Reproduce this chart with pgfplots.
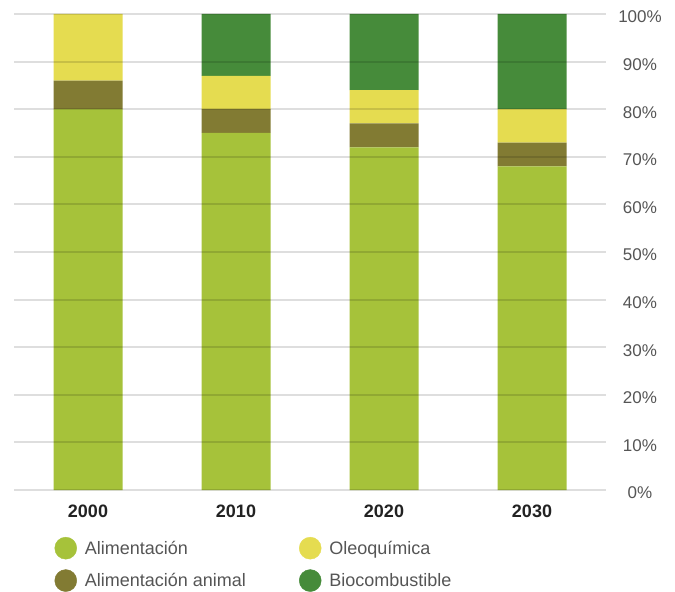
\documentclass[border=0pt]{standalone}
\usepackage{pgfplots}
\pgfplotsset{compat=1.18}
\usepackage{fontspec}
\setmainfont{Liberation Sans}
\definecolor{alim}{HTML}{A6C23A}
\definecolor{anim}{HTML}{827B33}
\definecolor{oleo}{HTML}{E5DC50}
\definecolor{bio}{HTML}{468B3A}
\definecolor{ticktxt}{HTML}{555555}
\definecolor{yeartxt}{HTML}{222222}
\begin{document}
\begin{tikzpicture}
\path[use as bounding box] (-14bp,-102bp) rectangle (661bp,490bp);
\begin{axis}[
  scale only axis,
  width=592bp, height=476bp,
  ybar stacked,
  bar width=69bp,
  xmin=-0.5, xmax=3.5, ymin=0, ymax=100,
  enlargelimits=false,
  axis on top,
  axis line style={draw=none},
  major tick length=0pt,
  xtick={0,1,2,3},
  xticklabels={2000,2010,2020,2030},
  xticklabel style={font=\fontsize{18bp}{20bp}\selectfont\bfseries, text=yeartxt, inner sep=0pt, anchor=north, yshift=-15bp},
  ytick={0,10,...,100},
  yticklabel pos=right,
  yticklabel={\pgfmathprintnumber{\tick}\%},
  /pgf/number format/assume math mode=true,
  yticklabel style={font=\fontsize{17bp}{19bp}\selectfont, text=ticktxt, anchor=center, inner sep=0pt, xshift=34bp, yshift=-3bp},
  ymajorgrids,
  grid style={draw=black, draw opacity=0.13, line width=2bp},
  legend columns=2,
  legend style={at={(axis cs:-0.226,-9.87)}, anchor=north west, draw=none, fill=none, inner sep=0pt, outer sep=0pt,
    font=\fontsize{18bp}{20bp}\selectfont, text=ticktxt,
    nodes={inner sep=0pt},
    row sep=10bp,
    /tikz/every odd column/.append style={column sep=8bp},
    /tikz/every even column/.append style={column sep=53bp}},
  legend cell align=left,
]
\addlegendimage{legend image code/.code={\fill[alim] (11bp,0bp) circle (11bp);}}
\addlegendentry{Alimentación}
\addlegendimage{legend image code/.code={\fill[oleo] (11bp,0bp) circle (11bp);}}
\addlegendentry{Oleoquímica}
\addlegendimage{legend image code/.code={\fill[anim] (11bp,0bp) circle (11bp);}}
\addlegendentry{Alimentación animal}
\addlegendimage{legend image code/.code={\fill[bio] (11bp,0bp) circle (11bp);}}
\addlegendentry{Biocombustible}
\addplot[fill=alim, draw=none] coordinates {(0,80) (1,75) (2,72) (3,68)};
\addplot[fill=anim, draw=none] coordinates {(0,6) (1,5) (2,5) (3,5)};
\addplot[fill=oleo, draw=none] coordinates {(0,14) (1,7) (2,7) (3,7)};
\addplot[fill=bio, draw=none] coordinates {(0,0) (1,13) (2,16) (3,20)};
\end{axis}
\end{tikzpicture}
\end{document}
